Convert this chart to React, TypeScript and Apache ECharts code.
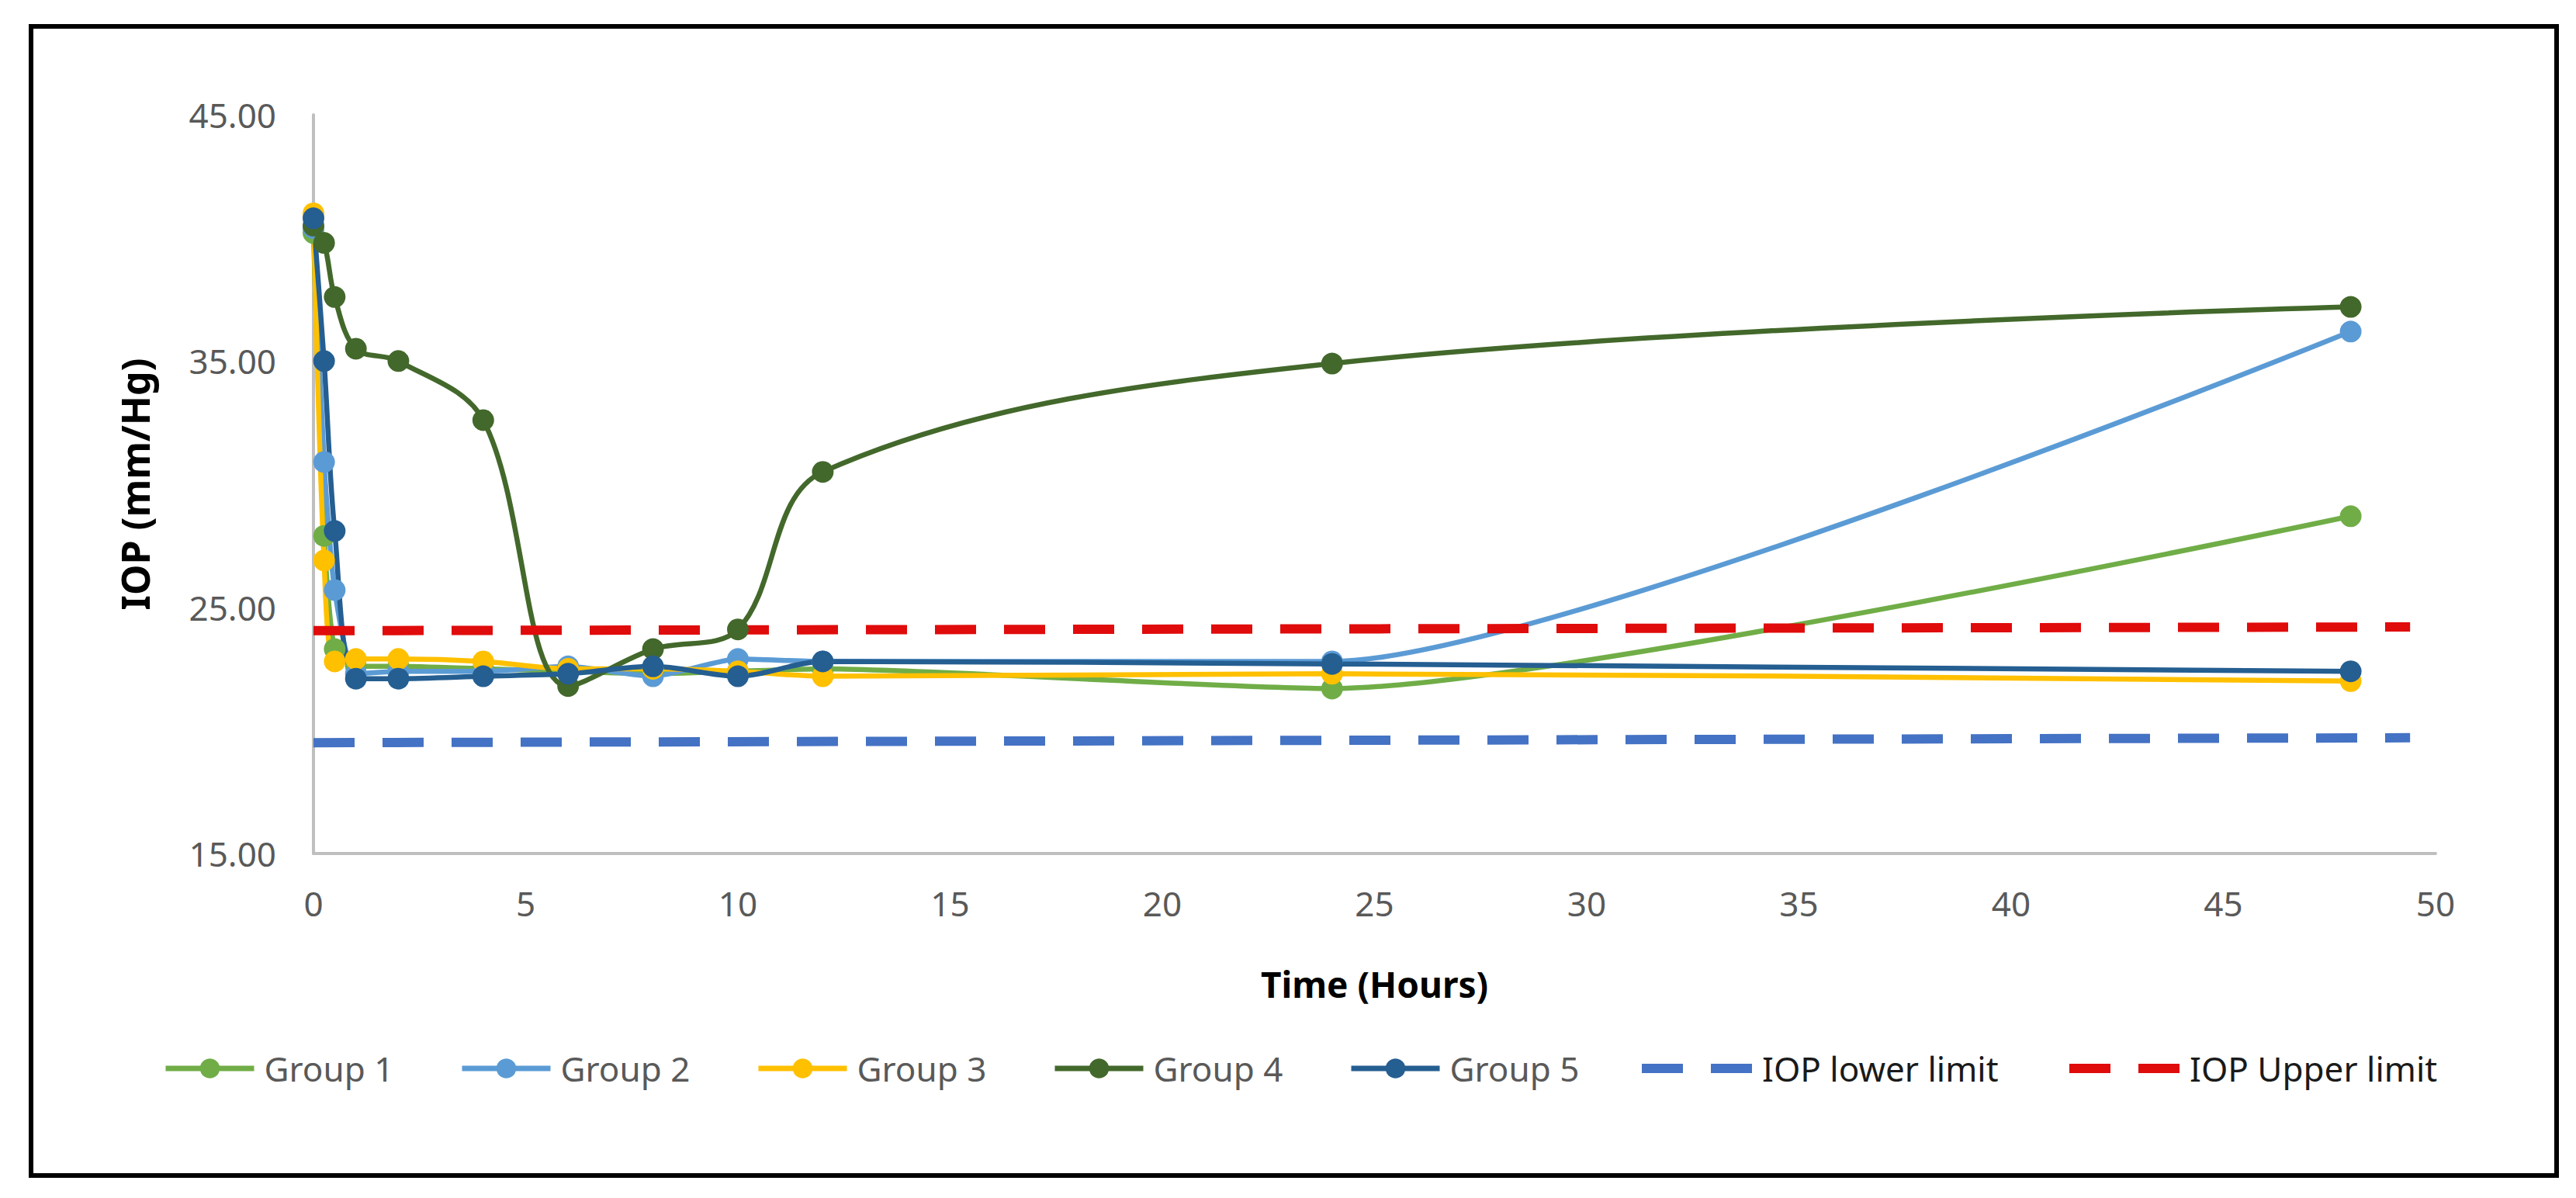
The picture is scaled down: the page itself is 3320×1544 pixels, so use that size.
import React, { useEffect, useRef } from "react";
import * as echarts from "echarts";

const hours = [0, 0.25, 0.5, 1, 2, 4, 6, 8, 10, 12, 24, 48];
const group1 = [40.2, 27.9, 23.3, 22.6, 22.6, 22.5, 22.4, 22.3, 22.4, 22.5, 21.7, 28.7];
const group2 = [40.4, 30.9, 25.7, 22.3, 22.4, 22.4, 22.6, 22.2, 22.9, 22.8, 22.8, 36.2];
const group3 = [41.0, 26.9, 22.8, 22.9, 22.9, 22.8, 22.5, 22.5, 22.4, 22.2, 22.3, 22.0];
const group4 = [40.5, 39.8, 37.6, 35.5, 35.0, 32.6, 21.8, 23.3, 24.1, 30.5, 34.9, 37.2];
const group5 = [40.8, 35.0, 28.1, 22.1, 22.1, 22.2, 22.3, 22.6, 22.2, 22.8, 22.7, 22.4];
const limitHours = [0, 49.4];
const lowerLimit = [19.5, 19.7];
const upperLimit = [24.05, 24.2];

const groupNames = ["Group 1", "Group 2", "Group 3", "Group 4", "Group 5"];
const groupColors = ["#70ad47", "#5b9bd5", "#ffc000", "#43682b", "#255e91"];
const groupSmooth = [0.2, 0.2, 0.3, 0.35, 0.3];
const groupData = [group1, group2, group3, group4, group5];

const FONT = "'Noto Sans', 'DejaVu Sans', sans-serif";
const DASH_ICON = "path://M0,0h53v12h-53z M89,0h53v12h-53z";

export default function App() {
  const ref = useRef<HTMLDivElement>(null);
  useEffect(() => {
    if (!ref.current) return;
    const chart = echarts.init(ref.current, undefined, { renderer: "svg" });
    const pair = (xs: number[], ys: number[]) => xs.map((x, i) => [x, ys[i]]);
    const groupSeries = groupNames.map((name, i) => ({
      name,
      type: "line",
      data: pair(hours, groupData[i]),
      smooth: groupSmooth[i],
      symbol: "circle",
      symbolSize: 28,
      lineStyle: { width: 6.5, color: groupColors[i] },
      itemStyle: { color: groupColors[i] },
    }));
    const legendLefts = [205, 587, 969, 1351, 1733];
    const groupLegends = groupNames.map((name, i) => ({
      data: [name],
      left: legendLefts[i],
      top: 1350,
      itemWidth: 114,
      itemHeight: 32,
      lineStyle: { width: 7 },
      textStyle: { fontFamily: FONT, fontSize: 44, color: "#595959", padding: [0, 0, 0, 8] },
    }));
    const dashLegend = (name: string, left: number, color: string) => ({
      data: [{ name, icon: DASH_ICON, itemStyle: { color } }],
      left,
      top: 1350,
      itemWidth: 142,
      itemHeight: 12,
      textStyle: { fontFamily: FONT, fontSize: 44, color: "#1a1a1a", padding: [0, 0, 0, 8] },
    });
    chart.setOption({
      animation: false,
      backgroundColor: "#ffffff",
      grid: { left: 404, right: 181, top: 148, bottom: 444, containLabel: false },
      xAxis: {
        type: "value",
        min: 0,
        max: 50,
        interval: 5,
        name: "Time (Hours)",
        nameLocation: "middle",
        nameGap: 145,
        nameTextStyle: { fontFamily: FONT, fontSize: 46, fontWeight: "bold", color: "#000" },
        axisLine: { show: true, lineStyle: { color: "#bfbfbf", width: 4 } },
        axisTick: { show: false },
        splitLine: { show: false },
        axisLabel: { fontFamily: FONT, fontSize: 44, color: "#595959", margin: 42 },
      },
      yAxis: {
        type: "value",
        min: 15,
        max: 45,
        interval: 10,
        name: "IOP (mm/Hg)",
        nameLocation: "middle",
        nameGap: 205,
        nameTextStyle: { fontFamily: FONT, fontSize: 50, fontWeight: "bold", color: "#000" },
        axisLine: { show: true, lineStyle: { color: "#bfbfbf", width: 4 } },
        axisTick: { show: false },
        splitLine: { show: false },
        axisLabel: {
          fontFamily: FONT,
          fontSize: 44,
          color: "#595959",
          margin: 48,
          formatter: (v: number) => v.toFixed(2),
        },
      },
      legend: [
        ...groupLegends,
        dashLegend("IOP lower limit", 2111, "#4472c4"),
        dashLegend("IOP Upper limit", 2662, "#e00b0b"),
      ],
      graphic: [
        {
          type: "rect",
          shape: { x: 40, y: 34, width: 3255, height: 1481 },
          style: { fill: "none", stroke: "#000", lineWidth: 6 },
          silent: true,
        },
      ],
      series: [
        ...groupSeries,
        {
          name: "IOP lower limit",
          type: "line",
          data: pair(limitHours, lowerLimit),
          symbol: "none",
          lineStyle: { width: 12, color: "#4472c4", type: [53, 36] },
          itemStyle: { color: "#4472c4" },
        },
        {
          name: "IOP Upper limit",
          type: "line",
          data: pair(limitHours, upperLimit),
          symbol: "none",
          lineStyle: { width: 12, color: "#e00b0b", type: [53, 36] },
          itemStyle: { color: "#e00b0b" },
        },
      ],
    });
    return () => chart.dispose();
  }, []);
  return (
    <div
      ref={ref}
      style={{ position: "absolute", left: 0, top: 0, width: 3320, height: 1544, background: "#fff" }}
    />
  );
}
